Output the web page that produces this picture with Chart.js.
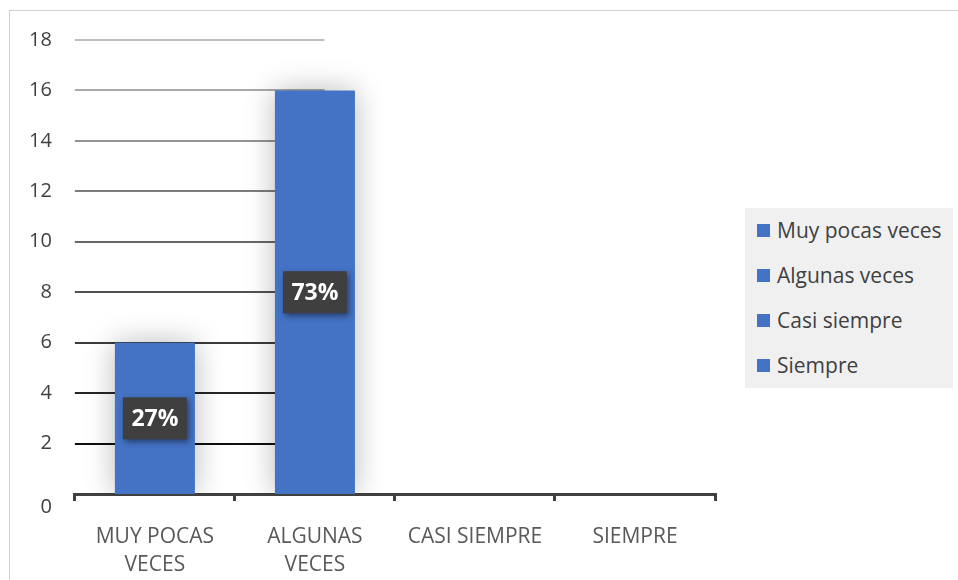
<!DOCTYPE html>
<html lang="es">
<head>
<meta charset="utf-8">
<title>Frecuencia</title>
<script src="https://cdn.jsdelivr.net/npm/chart.js@4.4.0/dist/chart.umd.min.js"></script>
<style>
    body { margin: 0; background: #fff; }
    #wrap { position: relative; width: 958px; height: 580px; overflow: hidden; }
    #marco { position: absolute; left: 9px; top: 10px; width: 960px; height: 580px; border: 1px solid #d0d0d0; }
    #grafica { position: absolute; left: 0; top: 0; }
    #leyenda {
        position: absolute; left: 745px; top: 208px; width: 208px; height: 180px;
        background: #f0f0f0; font-family: 'Open Sans', sans-serif; font-size: 21px; color: #404040;
    }
    #leyenda .item { height: 45px; line-height: 45px; position: relative; padding-left: 32px; white-space: nowrap; }
    #leyenda .item span { position: absolute; left: 12px; top: 16px; width: 13px; height: 13px; }
</style>
</head>
<body>
<div id="wrap">
    <div id="marco"></div>
    <canvas id="grafica" width="958" height="580"></canvas>
    <div id="leyenda"></div>
</div>
<script>
// Datos
const categorias = [['MUY POCAS', 'VECES'], ['ALGUNAS', 'VECES'], 'CASI SIEMPRE', 'SIEMPRE'];
const etiquetasLeyenda = ['Muy pocas veces', 'Algunas veces', 'Casi siempre', 'Siempre'];
const valores = [6, 16, 0, 0];
const ejeY = { min: 0, max: 18, paso: 2 };

const AZUL = '#4472c4';
const PAD_TICKS = 23;
const total = valores.reduce((a, b) => a + b, 0);

// Leyenda HTML
function crearLeyenda() {
    const cont = document.getElementById('leyenda');
    etiquetasLeyenda.forEach(txt => {
        const item = document.createElement('div');
        item.className = 'item';
        const caja = document.createElement('span');
        caja.style.background = AZUL;
        item.appendChild(caja);
        item.appendChild(document.createTextNode(txt));
        cont.appendChild(item);
    });
}

// Líneas guía, sombra de barras y etiquetas de porcentaje
const decoracion = {
    id: 'decoracion',
    beforeDatasetsDraw(chart) {
        const { ctx, chartArea, scales: { x, y } } = chart;
        const anchoCat = x.getPixelForValue(1) - x.getPixelForValue(0);
        const fin = x.getPixelForValue(1) + anchoCat * 0.06;
        ctx.save();
        ctx.lineWidth = 2;
        y.ticks.forEach(t => {
            if (t.value === 0) return;
            const nivel = Math.round(191 - (ejeY.max - t.value) / ejeY.paso * 22);
            const py = Math.round(y.getPixelForValue(t.value));
            ctx.strokeStyle = `rgb(${nivel},${nivel},${nivel})`;
            ctx.beginPath();
            ctx.moveTo(chartArea.left, py);
            ctx.lineTo(fin, py);
            ctx.stroke();
        });
        ctx.restore();

        // sombra suave de las barras
        ctx.save();
        ctx.shadowColor = 'rgba(0, 0, 0, 0.28)';
        ctx.shadowBlur = 30;
    },
    afterDatasetsDraw(chart) {
        const { ctx } = chart;
        ctx.restore();

        const meta = chart.getDatasetMeta(0);
        meta.data.forEach((barra, i) => {
            const v = valores[i];
            if (!v) return;
            const cy = (barra.y + barra.base) / 2;
            const texto = Math.round(v / total * 100) + '%';
            ctx.save();
            ctx.shadowColor = 'rgba(0, 0, 0, 0.45)';
            ctx.shadowBlur = 6;
            ctx.shadowOffsetX = 2;
            ctx.shadowOffsetY = 3;
            ctx.fillStyle = '#3f3f3f';
            ctx.fillRect(barra.x - 32, cy - 21, 64, 42);
            ctx.restore();
            ctx.save();
            ctx.fillStyle = '#ffffff';
            ctx.font = 'bold 23px "Open Sans", sans-serif';
            ctx.textAlign = 'center';
            ctx.textBaseline = 'middle';
            ctx.fillText(texto, barra.x, cy + 1);
            ctx.restore();
        });
    },
    afterDraw(chart) {
        // el "0" del eje Y va un poco más abajo
        const { ctx, scales: { y } } = chart;
        const lbl = y._labelItems && y._labelItems[1];
        ctx.save();
        ctx.fillStyle = '#404040';
        ctx.font = '20px "Open Sans", sans-serif';
        ctx.textAlign = 'right';
        ctx.textBaseline = 'middle';
        const xr = lbl ? lbl.options.translation[0] : chart.chartArea.left - PAD_TICKS;
        ctx.fillText('0', xr, y.getPixelForValue(0) + 13);
        ctx.restore();
    }
};

function init() {
    crearLeyenda();
    const ctx = document.getElementById('grafica').getContext('2d');
    new Chart(ctx, {
        type: 'bar',
        data: {
            labels: categorias,
            datasets: [{
                data: valores,
                backgroundColor: AZUL,
                borderWidth: 0,
                barPercentage: 0.5,
                categoryPercentage: 1
            }]
        },
        options: {
            responsive: false,
            animation: false,
            layout: { padding: { left: 6, top: 40, right: 243, bottom: 1 } },
            plugins: {
                legend: { display: false },
                tooltip: { enabled: false }
            },
            scales: {
                x: {
                    offset: true,
                    afterFit(scale) {
                        scale.height = 85;
                        scale.paddingLeft = 0;
                        scale.paddingRight = 0;
                    },
                    grid: {
                        offset: true,
                        drawOnChartArea: false,
                        drawTicks: true,
                        tickLength: 7,
                        lineWidth: 3,
                        color: '#404040'
                    },
                    border: { display: true, color: '#404040', width: 3 },
                    ticks: {
                        color: '#595959',
                        padding: 22,
                        maxRotation: 0,
                        font: { family: "'Open Sans', sans-serif", size: 21, lineHeight: 1.33 }
                    }
                },
                y: {
                    min: ejeY.min,
                    max: ejeY.max,
                    grid: { display: false, drawTicks: false },
                    border: { display: false },
                    ticks: {
                        stepSize: ejeY.paso,
                        padding: PAD_TICKS,
                        color: c => c.tick && c.tick.value === 0 ? 'rgba(0,0,0,0)' : '#404040',
                        font: { family: "'Open Sans', sans-serif", size: 20 }
                    }
                }
            }
        },
        plugins: [decoracion]
    });
}

document.addEventListener('DOMContentLoaded', init);
</script>
</body>
</html>
